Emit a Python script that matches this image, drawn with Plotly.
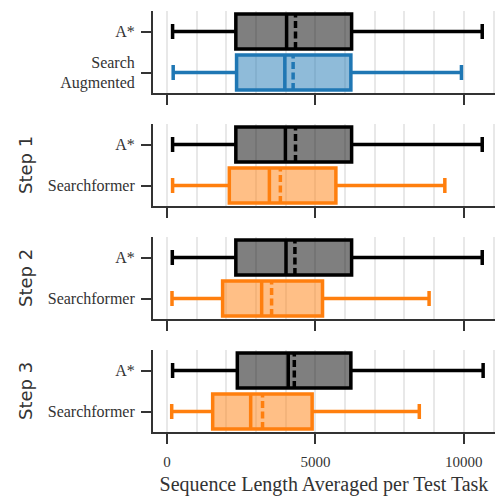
import plotly.graph_objects as go

# ---- data ----
panel_labels = ["", "Step 1", "Step 2", "Step 3"]
second_names = ["Search<br>Augmented", "Searchformer", "Searchformer", "Searchformer"]

astar_low = [190, 190, 180, 190]
astar_q1 = [2320, 2320, 2320, 2370]
astar_med = [4030, 3990, 4010, 4085]
astar_mean = [4330, 4330, 4310, 4290]
astar_q3 = [6220, 6220, 6220, 6195]
astar_high = [10620, 10620, 10620, 10650]

model_low = [210, 190, 170, 160]
model_q1 = [2345, 2100, 1875, 1540]
model_med = [3970, 3450, 3190, 2820]
model_mean = [4250, 3820, 3525, 3220]
model_q3 = [6195, 5690, 5240, 4890]
model_high = [9920, 9360, 8830, 8500]

model_line = ["#1f77b4", "#ff7f0e", "#ff7f0e", "#ff7f0e"]
model_fill = ["rgba(31,119,180,0.5)", "rgba(255,127,14,0.5)", "rgba(255,127,14,0.5)", "rgba(255,127,14,0.5)"]

x_ticks = [0, 5000, 10000]
x_title = "Sequence Length Averaged per Test Task"

# ---- layout geometry ----
W, H = 496, 499
ml, mr, mt, mb = 153, 1, 11, 67
ph = H - mt - mb
panel_h, gap = 82, 31

fig = go.Figure()
layout = dict(
    width=W, height=H,
    margin=dict(l=ml, r=mr, t=mt, b=mb, pad=0),
    plot_bgcolor="white", paper_bgcolor="white",
    showlegend=False, boxmode="overlay",
    font=dict(family="Liberation Serif", color="#333333", size=16),
)

annotations = []
for i in range(4):
    top = i * (panel_h + gap)
    bot = top + panel_h
    d0 = (ph - bot) / ph
    d1 = (ph - top) / ph
    xa = "xaxis" if i == 0 else f"xaxis{i+1}"
    ya = "yaxis" if i == 0 else f"yaxis{i+1}"
    xref = "x" if i == 0 else f"x{i+1}"
    yref = "y" if i == 0 else f"y{i+1}"
    cats = [second_names[i], "A*"]

    fig.add_trace(go.Box(
        y=["A*"], q1=[astar_q1[i]], median=[astar_med[i]], q3=[astar_q3[i]],
        lowerfence=[astar_low[i]], upperfence=[astar_high[i]], mean=[astar_mean[i]],
        orientation="h", boxmean=True, width=0.85, whiskerwidth=0.43,
        line=dict(color="black", width=3.5), fillcolor="rgba(0,0,0,0.5)",
        xaxis=xref, yaxis=yref, boxpoints=False, hoverinfo="skip",
    ))
    fig.add_trace(go.Box(
        y=[second_names[i]], q1=[model_q1[i]], median=[model_med[i]], q3=[model_q3[i]],
        lowerfence=[model_low[i]], upperfence=[model_high[i]], mean=[model_mean[i]],
        orientation="h", boxmean=True, width=0.85, whiskerwidth=0.43,
        line=dict(color=model_line[i], width=3.5), fillcolor=model_fill[i],
        xaxis=xref, yaxis=yref, boxpoints=False, hoverinfo="skip",
    ))

    layout[xa] = dict(
        domain=[0, 1], anchor=yref, range=[-470, 11050],
        tickmode="array", tickvals=x_ticks,
        ticktext=[str(v) for v in x_ticks] if i == 3 else ["", "", ""],
        showticklabels=(i == 3),
        ticks="outside", ticklen=10, tickwidth=2, tickcolor="#333333",
        showline=True, linecolor="#333333", linewidth=2,
        showgrid=False, zeroline=False,
        minor=dict(dtick=1000, tick0=0, showgrid=True, gridcolor="#e8e8e8", gridwidth=1.5, ticks=""),
        tickfont=dict(size=15, family="Liberation Serif", color="#333333"),
        ticklabelstandoff=5,
        title=dict(text=x_title if i == 3 else "", font=dict(size=20, family="Liberation Serif", color="#333333"), standoff=8),
    )
    if i != 0:
        layout[xa]["matches"] = "x"
    layout[ya] = dict(
        domain=[d0, d1], anchor=xref,
        type="category", categoryorder="array", categoryarray=cats,
        range=[-0.5, 1.5],
        ticks="outside", ticklen=10, tickwidth=2, tickcolor="#333333",
        showline=True, linecolor="#333333", linewidth=2,
        showgrid=False, zeroline=False,
        tickfont=dict(size=16, family="Liberation Serif", color="#333333"),
        ticklabelstandoff=3,
    )
    if panel_labels[i]:
        annotations.append(dict(
            text=panel_labels[i], xref="paper", yref="paper",
            x=(25 - ml) / (W - ml - mr), y=(d0 + d1) / 2,
            xanchor="center", yanchor="middle", textangle=-90, showarrow=False,
            font=dict(size=18, family="DejaVu Sans", color="#333333"),
        ))

layout["annotations"] = annotations
fig.update_layout(**layout)
fig.write_html("out.html")
